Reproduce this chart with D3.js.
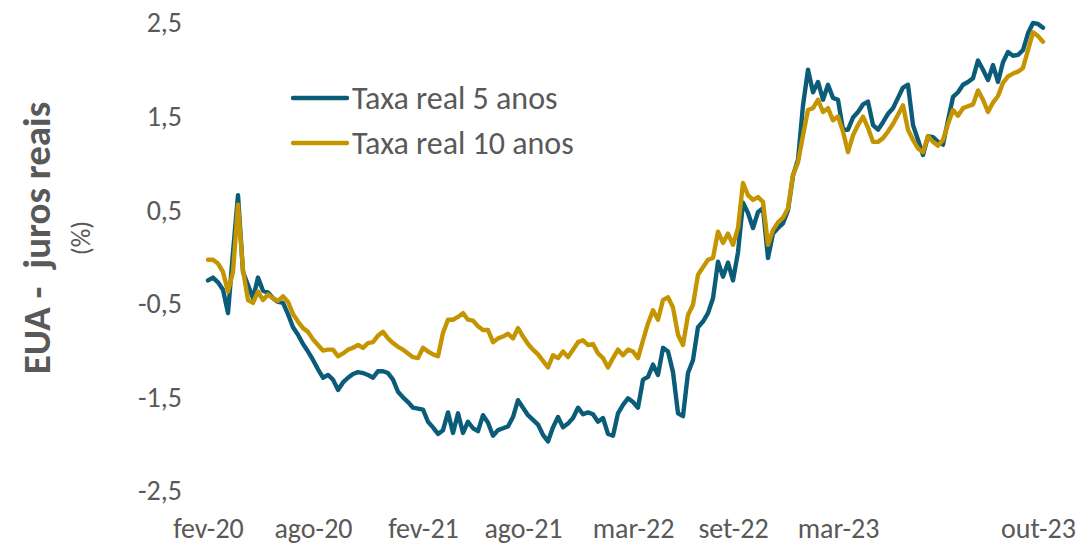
<!DOCTYPE html>
<html>
<head>
<meta charset="utf-8">
<script src="https://d3js.org/d3.v7.min.js"></script>
<style>
  body { margin: 0; background: #fff; }
  svg { display: block; }
</style>
</head>
<body>
<script>
"use strict";

// one value every ~4 trading days, fev-20 .. out-23
const taxa5 = [
  -0.25,-0.22,-0.27,-0.35,-0.60,0.05,0.66,-0.16,-0.30,-0.44,
  -0.22,-0.36,-0.38,-0.44,-0.48,-0.49,-0.61,-0.75,-0.83,-0.93,
  -1.01,-1.10,-1.20,-1.29,-1.26,-1.31,-1.42,-1.34,-1.29,-1.25,
  -1.23,-1.24,-1.26,-1.29,-1.22,-1.22,-1.24,-1.31,-1.44,-1.50,
  -1.55,-1.61,-1.62,-1.63,-1.76,-1.82,-1.89,-1.85,-1.66,-1.88,
  -1.67,-1.88,-1.76,-1.83,-1.86,-1.69,-1.77,-1.91,-1.85,-1.83,
  -1.81,-1.71,-1.53,-1.61,-1.69,-1.74,-1.79,-1.90,-1.97,-1.82,
  -1.71,-1.82,-1.78,-1.72,-1.61,-1.68,-1.66,-1.68,-1.76,-1.72,
  -1.89,-1.91,-1.67,-1.58,-1.51,-1.55,-1.61,-1.31,-1.28,-1.15,
  -1.26,-0.97,-1.01,-1.23,-1.67,-1.70,-1.24,-1.10,-0.75,-0.69,
  -0.60,-0.44,-0.05,-0.21,-0.06,-0.25,0.05,0.58,0.47,0.31,
  0.48,0.52,-0.01,0.25,0.31,0.36,0.50,0.87,1.04,1.62,
  2.00,1.76,1.87,1.68,1.84,1.70,1.68,1.36,1.36,1.49,
  1.55,1.63,1.66,1.41,1.36,1.44,1.53,1.59,1.70,1.81,
  1.84,1.41,1.25,1.09,1.29,1.28,1.23,1.20,1.46,1.71,
  1.76,1.84,1.87,1.91,2.10,2.00,1.89,2.05,1.87,2.08,
  2.19,2.15,2.16,2.21,2.39,2.50,2.49,2.45
];

const taxa10 = [
  -0.03,-0.03,-0.07,-0.16,-0.37,-0.16,0.56,-0.14,-0.46,-0.49,
  -0.37,-0.46,-0.40,-0.44,-0.47,-0.42,-0.48,-0.61,-0.69,-0.76,
  -0.80,-0.88,-0.94,-1.00,-0.99,-0.99,-1.06,-1.03,-0.99,-0.97,
  -0.94,-0.97,-0.92,-0.91,-0.84,-0.80,-0.87,-0.92,-0.96,-0.99,
  -1.03,-1.07,-1.08,-0.97,-1.01,-1.04,-1.06,-0.81,-0.67,-0.67,
  -0.64,-0.60,-0.67,-0.68,-0.74,-0.78,-0.78,-0.91,-0.87,-0.85,
  -0.82,-0.87,-0.76,-0.85,-0.93,-0.99,-1.04,-1.11,-1.18,-1.05,
  -1.08,-1.01,-1.07,-0.99,-0.91,-0.89,-0.94,-0.93,-1.03,-1.08,
  -1.18,-1.08,-0.99,-1.05,-0.99,-1.01,-1.08,-0.89,-0.71,-0.57,
  -0.67,-0.46,-0.43,-0.54,-0.83,-0.94,-0.62,-0.51,-0.19,-0.11,
  -0.03,-0.01,0.27,0.15,0.25,0.13,0.31,0.79,0.66,0.61,
  0.64,0.59,0.13,0.29,0.37,0.42,0.52,0.88,1.01,1.30,
  1.57,1.59,1.68,1.55,1.59,1.46,1.50,1.34,1.12,1.30,
  1.41,1.50,1.38,1.23,1.23,1.27,1.34,1.42,1.52,1.62,
  1.36,1.25,1.16,1.12,1.29,1.23,1.19,1.25,1.42,1.57,
  1.51,1.59,1.61,1.63,1.78,1.68,1.55,1.65,1.72,1.86,
  1.93,1.96,1.98,2.02,2.21,2.40,2.36,2.30
];

// category-axis labels, placed on the sample index they belong to
const xTickIdx = [0, 21, 43, 63, 85, 105, 126, 166];
const xTickLabels = ["fev-20", "ago-20", "fev-21", "ago-21", "mar-22", "set-22", "mar-23", "out-23"];
const yTicks = [-2.5, -1.5, -0.5, 0.5, 1.5, 2.5];

const seriesNames = ["Taxa real 5 anos", "Taxa real 10 anos"];
const seriesColors = ["#0b5c79", "#c49500"];

(function(){

  const measurements = {
    width: 1084,
    height: 547,
    left: 208,
    right: 1043,
    top: 23,
    bottom: 491
  };
  const font = "Carlito, Lato, 'Open Sans', sans-serif";
  const textColor = "#595959";

  let svgContainer = "";

  function init() {
    svgContainer = d3.select("body").append("svg")
      .attr("width", measurements.width)
      .attr("height", measurements.height)
      .style("font-family", font);

    let scaleX = d3.scaleLinear()
      .domain([0, taxa5.length - 1])
      .range([measurements.left, measurements.right]);

    let scaleY = d3.scaleLinear()
      .domain([-2.5, 2.5])
      .range([measurements.bottom, measurements.top]);

    drawAxes(scaleX, scaleY);
    plotData(scaleX, scaleY);
    drawLegend();
    drawTitles();
  }

  function drawAxes(scaleX, scaleY) {
    const br = d3.formatLocale({ decimal: ",", thousands: ".", grouping: [3], currency: ["R$", ""] });
    const fmt = br.format(".1f");

    let yAxis = d3.axisLeft(scaleY)
      .tickValues(yTicks)
      .tickSize(0)
      .tickPadding(26)
      .tickFormat(d => fmt(d).replace("−", "-"));

    let xAxis = d3.axisBottom(scaleX)
      .tickValues(xTickIdx)
      .tickSize(0)
      .tickPadding(27)
      .tickFormat((d, i) => xTickLabels[i]);

    let gy = svgContainer.append("g")
      .attr("transform", "translate(" + measurements.left + ",0)")
      .call(yAxis);

    let gx = svgContainer.append("g")
      .attr("transform", "translate(0," + measurements.bottom + ")")
      .call(xAxis);

    [gx, gy].forEach(g => {
      g.select(".domain").remove();
      g.selectAll("text")
        .attr("fill", textColor)
        .style("font-family", font)
        .style("font-size", "28px");
    });
  }

  function plotData(scaleX, scaleY) {
    const line = d3.line()
      .x((d, i) => scaleX(i))
      .y(d => scaleY(d))
      .curve(d3.curveLinear);

    // 5 anos underneath, 10 anos on top (as in the original)
    [taxa5, taxa10].forEach((s, k) => {
      svgContainer.append("path")
        .datum(s)
        .attr("fill", "none")
        .attr("stroke", seriesColors[k])
        .attr("stroke-width", 4.4)
        .attr("stroke-linejoin", "round")
        .attr("stroke-linecap", "round")
        .attr("d", line);
    });
  }

  function drawLegend() {
    const rows = [98, 143];
    let lg = svgContainer.append("g");
    seriesNames.forEach((name, k) => {
      lg.append("line")
        .attr("x1", 293).attr("x2", 347)
        .attr("y1", rows[k]).attr("y2", rows[k])
        .attr("stroke", seriesColors[k])
        .attr("stroke-width", 4.4)
        .attr("stroke-linecap", "round");
      lg.append("text")
        .attr("x", 352)
        .attr("y", rows[k])
        .attr("dy", "0.35em")
        .attr("fill", textColor)
        .style("font-size", "32px")
        .text(name);
    });
  }

  function drawTitles() {
    svgContainer.append("text")
      .attr("transform", "translate(50,238) rotate(-90)")
      .attr("text-anchor", "middle")
      .attr("fill", textColor)
      .style("font-size", "39px")
      .style("font-weight", "bold")
      .style("white-space", "pre")
      .text("EUA -  juros reais");

    svgContainer.append("text")
      .attr("transform", "translate(90,238) rotate(-90)")
      .attr("text-anchor", "middle")
      .attr("fill", textColor)
      .style("font-size", "26px")
      .text("(%)");
  }

  window.addEventListener("load", init);

})();
</script>
</body>
</html>
